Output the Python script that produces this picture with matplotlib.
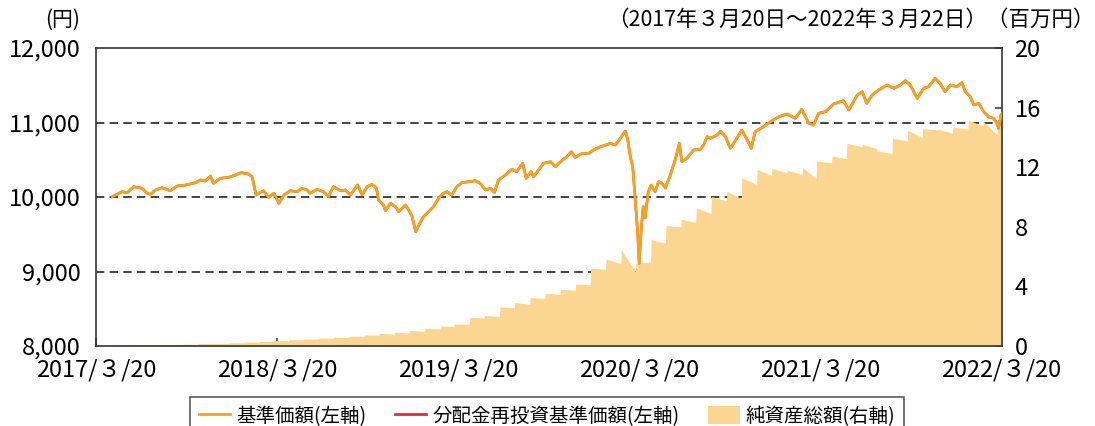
import matplotlib
matplotlib.use('Agg')
import matplotlib.pyplot as plt
from matplotlib.lines import Line2D
from matplotlib.patches import Patch
import pandas as pd

plt.rcParams['font.family'] = ['Noto Sans CJK JP', 'DejaVu Sans']

# 基準価額 (円)
price_dates = [
    '2017-04-22', '2017-05-12', '2017-05-22', '2017-06-04', '2017-06-21', '2017-07-01',
    '2017-07-08', '2017-07-18', '2017-07-31', '2017-08-17', '2017-08-31', '2017-09-17',
    '2017-10-07', '2017-10-17', '2017-10-27', '2017-11-06', '2017-11-12', '2017-11-26',
    '2017-12-13', '2017-12-26', '2018-01-07', '2018-01-22', '2018-01-29', '2018-02-06',
    '2018-02-14', '2018-02-21', '2018-03-03', '2018-03-14', '2018-03-24', '2018-04-03',
    '2018-04-16', '2018-04-30', '2018-05-10', '2018-05-20', '2018-05-26', '2018-06-09',
    '2018-06-22', '2018-07-02', '2018-07-12', '2018-07-26', '2018-08-05', '2018-08-15',
    '2018-08-30', '2018-09-08', '2018-09-18', '2018-09-28', '2018-10-07', '2018-10-11',
    '2018-10-21', '2018-10-25', '2018-11-04', '2018-11-14', '2018-11-21', '2018-12-04',
    '2018-12-11', '2018-12-18', '2018-12-25', '2019-01-04', '2019-01-10', '2019-01-20',
    '2019-01-30', '2019-02-09', '2019-02-19', '2019-02-26', '2019-03-08', '2019-03-18',
    '2019-03-28', '2019-04-11', '2019-04-24', '2019-05-04', '2019-05-15', '2019-05-25',
    '2019-06-02', '2019-06-10', '2019-06-24', '2019-07-07', '2019-07-17', '2019-07-29',
    '2019-08-05', '2019-08-15', '2019-08-20', '2019-08-30', '2019-09-09', '2019-09-23',
    '2019-10-03', '2019-10-13', '2019-10-26', '2019-11-04', '2019-11-12', '2019-11-26',
    '2019-12-09', '2019-12-19', '2020-01-02', '2020-01-12', '2020-01-22', '2020-02-01',
    '2020-02-11', '2020-02-21', '2020-02-26', '2020-03-02', '2020-03-07', '2020-03-12',
    '2020-03-17', '2020-03-20', '2020-03-24', '2020-03-28', '2020-04-01', '2020-04-07',
    '2020-04-13', '2020-04-21', '2020-04-28', '2020-05-05', '2020-05-12', '2020-05-22',
    '2020-06-01', '2020-06-09', '2020-06-14', '2020-06-24', '2020-07-08', '2020-07-21',
    '2020-07-28', '2020-08-04', '2020-08-11', '2020-08-24', '2020-08-31', '2020-09-10',
    '2020-09-20', '2020-10-03', '2020-10-13', '2020-10-24', '2020-11-01', '2020-11-09',
    '2020-11-26', '2020-12-10', '2020-12-27', '2021-01-12', '2021-01-29', '2021-02-11',
    '2021-02-25', '2021-03-07', '2021-03-17', '2021-03-31', '2021-04-16', '2021-05-06',
    '2021-05-17', '2021-06-03', '2021-06-13', '2021-06-22', '2021-07-03', '2021-07-16',
    '2021-08-02', '2021-08-16', '2021-08-29', '2021-09-08', '2021-09-18', '2021-10-02',
    '2021-10-15', '2021-10-25', '2021-11-07', '2021-11-17', '2021-11-27', '2021-12-08',
    '2021-12-21', '2021-12-31', '2022-01-07', '2022-01-17', '2022-01-24', '2022-02-03',
    '2022-02-13', '2022-02-23', '2022-03-05', '2022-03-12', '2022-03-15', '2022-03-20',
    '2022-03-22',
]
price_values = [
    10004, 10071, 10058, 10138, 10117, 10050,
    10036, 10094, 10125, 10085, 10148, 10161,
    10192, 10228, 10215, 10282, 10184, 10251,
    10264, 10295, 10326, 10309, 10272, 10027,
    10058, 10085, 9996, 10050, 9916, 10027,
    10085, 10071, 10117, 10094, 10050, 10103,
    10071, 10004, 10138, 10085, 10094, 10027,
    10161, 10027, 10138, 10170, 10117, 9960,
    9893, 9816, 9916, 9870, 9803, 9893,
    9826, 9736, 9534, 9668, 9736, 9803,
    9870, 9982, 10050, 10071, 10027, 10138,
    10192, 10205, 10219, 10184, 10094, 10117,
    10058, 10228, 10295, 10371, 10340, 10452,
    10251, 10340, 10272, 10362, 10452, 10474,
    10407, 10474, 10541, 10608, 10532, 10586,
    10586, 10631, 10675, 10698, 10720, 10698,
    10788, 10885, 10765, 10540, 10407, 9960,
    9513, 9110, 9557, 9870, 9720, 10060,
    10160, 10071, 10205, 10184, 10120, 10300,
    10508, 10720, 10474, 10519, 10631, 10640,
    10698, 10810, 10788, 10832, 10880, 10810,
    10653, 10788, 10899, 10765, 10653, 10877,
    10944, 11011, 11078, 11114, 11056, 11177,
    10989, 10966, 11123, 11145, 11248, 11292,
    11168, 11369, 11414, 11257, 11369, 11436,
    11503, 11459, 11503, 11561, 11503, 11324,
    11459, 11481, 11593, 11526, 11414, 11503,
    11481, 11535, 11414, 11347, 11235, 11257,
    11145, 11078, 11056, 10989, 10922, 11101,
    11120,
]

# 純資産総額 (百万円): value right after each monthly inflow and just before the next
asset_dates = [
    '2017-04-21', '2017-05-13', '2017-06-13', '2017-07-13', '2017-08-13', '2017-09-13',
    '2017-10-13', '2017-11-13', '2017-12-13', '2018-01-13', '2018-02-13', '2018-03-13',
    '2018-04-13', '2018-05-13', '2018-06-13', '2018-07-13', '2018-08-13', '2018-09-13',
    '2018-10-13', '2018-11-13', '2018-12-13', '2019-01-13', '2019-02-13', '2019-03-13',
    '2019-04-13', '2019-05-13', '2019-06-13', '2019-07-13', '2019-08-13', '2019-09-13',
    '2019-10-13', '2019-11-13', '2019-12-13', '2020-01-13', '2020-02-13', '2020-03-13',
    '2020-04-13', '2020-05-13', '2020-06-13', '2020-07-13', '2020-08-13', '2020-09-13',
    '2020-10-13', '2020-11-13', '2020-12-13', '2021-01-13', '2021-02-13', '2021-03-13',
    '2021-04-13', '2021-05-13', '2021-06-13', '2021-07-13', '2021-08-13', '2021-09-13',
    '2021-10-13', '2021-11-13', '2021-12-13', '2022-01-13', '2022-02-13', '2022-03-13',
]
asset_top = [
    0.03, 0.04, 0.05, 0.07, 0.10, 0.12,
    0.16, 0.18, 0.22, 0.27, 0.30, 0.36,
    0.42, 0.47, 0.53, 0.59, 0.66, 0.74,
    0.84, 0.92, 1.04, 1.17, 1.33, 1.48,
    1.93, 2.04, 2.61, 2.92, 3.25, 3.55,
    3.80, 4.16, 5.23, 5.84, 6.46, 5.55,
    7.14, 8.08, 8.50, 9.27, 10.03, 10.39,
    11.29, 11.85, 11.92, 11.78, 11.97, 12.41,
    12.75, 13.60, 13.54, 13.08, 13.94, 14.48,
    14.59, 14.55, 14.70, 15.15, 15.04, 15.00,
]
asset_end = [
    0.03, 0.04, 0.05, 0.07, 0.10, 0.12,
    0.16, 0.18, 0.22, 0.26, 0.30, 0.35,
    0.42, 0.47, 0.52, 0.58, 0.65, 0.73,
    0.80, 0.88, 0.98, 1.15, 1.31, 1.46,
    1.88, 1.98, 2.57, 2.80, 3.20, 3.45,
    3.75, 4.10, 5.15, 5.52, 5.00, 5.65,
    6.90, 8.00, 8.30, 8.90, 9.75, 9.88,
    10.84, 11.45, 11.63, 11.52, 11.23, 12.30,
    12.57, 13.38, 13.25, 12.93, 13.76, 13.99,
    14.50, 14.28, 14.55, 14.77, 14.20, 15.70,
]

price_grid = [9000, 10000, 11000]
left_ticks = [8000, 9000, 10000, 11000, 12000]
right_ticks = [0, 4, 8, 12, 16, 20]
x_tick_dates = ['2017-03-20', '2018-03-20', '2019-03-20', '2020-03-20', '2021-03-20', '2022-03-20']
x_tick_labels = ['2017/３/20', '2018/３/20', '2019/３/20', '2020/３/20', '2021/３/20', '2022/３/20']

c_line = '#F5A21E'
c_red = '#E8293B'
c_area = '#FBD592'
c_spine = '#333333'
fs = 17

x_start = pd.Timestamp('2017-03-20')
x_end = pd.Timestamp('2022-03-22')

p_dates = pd.to_datetime(price_dates)
a_dates = pd.to_datetime(asset_dates)

# step shape for assets: jump at each monthly date, drift until the next one
ax_x, ax_y = [], []
for i, d in enumerate(a_dates):
    nxt = a_dates[i + 1] - pd.Timedelta(days=1) if i + 1 < len(a_dates) else x_end
    ax_x += [d, nxt]
    ax_y += [asset_top[i], asset_end[i]]

fig = plt.figure(figsize=(10.95, 4.26), dpi=100)
rect = [96 / 1095, 1 - 346 / 426, 906 / 1095, 298 / 426]
ax2 = fig.add_axes(rect)                 # right axis: net assets (drawn underneath)
ax = fig.add_axes(rect, sharex=ax2)      # left axis: price line (drawn on top)
ax.patch.set_visible(False)

ax2.fill_between(ax_x, 0, ax_y, color=c_area, lw=0, zorder=2)
ax2.hlines(price_grid, x_start, x_end, transform=ax.transData, colors='#222222',
           linestyles=(0, (5, 3.2)), lw=1.2, zorder=1)
ax2.set_ylim(0, 20)
ax2.set_yticks(right_ticks)
ax2.yaxis.tick_right()
ax2.tick_params(axis='y', direction='in', length=5, width=1.1, color=c_spine, labelsize=fs, pad=9)
ax2.set_xlim(x_start, x_end)
ax2.set_xticks(pd.to_datetime(x_tick_dates))
ax2.set_xticklabels(x_tick_labels)
ax2.tick_params(axis='x', direction='in', length=6, width=1.1, color=c_spine, labelsize=fs, pad=9)
for s in ax2.spines.values():
    s.set_color(c_spine)
    s.set_linewidth(1.2)
    s.set_zorder(5)

ax.plot(p_dates, price_values, color=c_red, lw=1.8, zorder=3)
ax.plot(p_dates, price_values, color=c_line, lw=2.0, zorder=4)
ax.set_ylim(8000, 12000)
ax.set_yticks(left_ticks)
ax.set_yticklabels([f'{v:,}' for v in left_ticks])
ax.tick_params(axis='y', length=0, labelsize=fs, pad=11)
ax.tick_params(axis='x', bottom=False, labelbottom=False)
for s in ax.spines.values():
    s.set_visible(False)

fig.text(80 / 1095, 1 - 20 / 426, '(円)', ha='right', va='center', fontsize=15)
fig.text(1094 / 1095, 1 - 20 / 426, '（2017年３月20日～2022年３月22日）（百万円）',
         ha='right', va='center', fontsize=15.5)

handles = [Line2D([], [], color=c_line, lw=2),
           Line2D([], [], color=c_red, lw=2),
           Patch(facecolor=c_area, edgecolor='none')]
labels = ['基準価額(左軸)', '分配金再投資基準価額(左軸)', '純資産総額(右軸)']
leg = fig.legend(handles, labels, loc='upper center', bbox_to_anchor=(547 / 1095, 1 - 397 / 426),
                 ncol=3, fontsize=14, frameon=True, fancybox=False, edgecolor='#222222',
                 handlelength=1.6, handleheight=1.0, handletextpad=0.3, columnspacing=1.5,
                 borderpad=0.45, borderaxespad=0)
leg.get_frame().set_linewidth(1.1)

fig.savefig('out.png', dpi=100)
